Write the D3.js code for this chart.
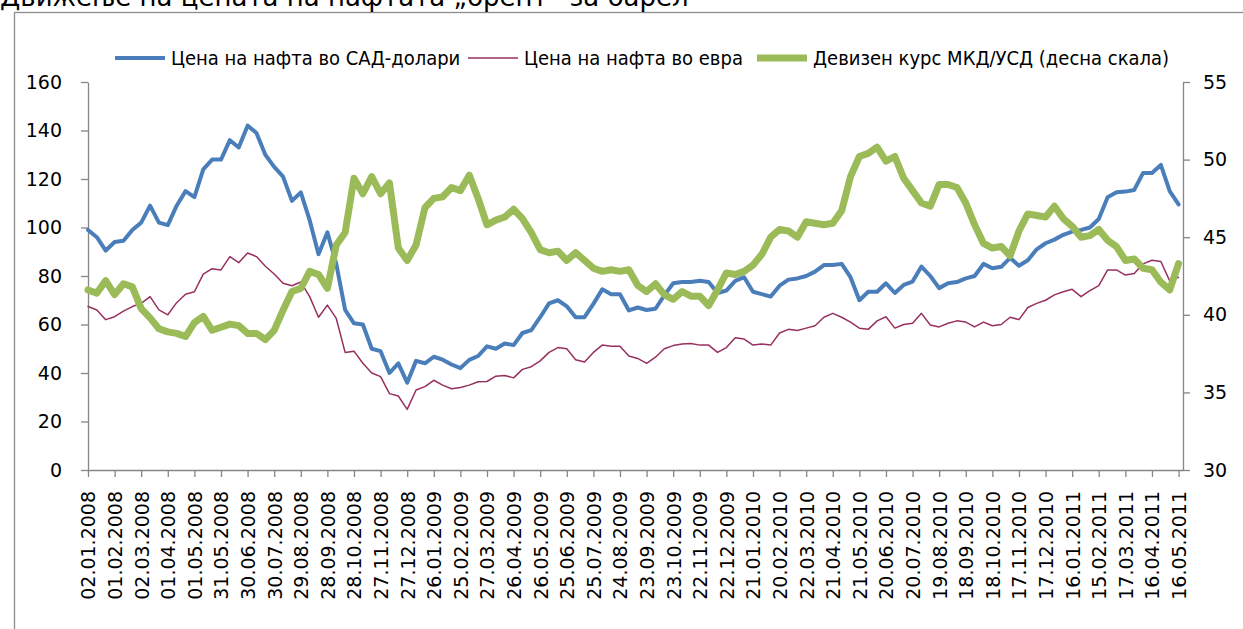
<!DOCTYPE html>
<meta charset="utf-8">
<script src="https://d3js.org/d3.v7.min.js"></script>
<style>

body {
  margin: 0;
  background: #fff;
}

path.line {
  fill: none;
  stroke-linejoin: round;
  stroke-linecap: round;
}

.axis path,
.axis line {
  stroke: #868686;
  stroke-width: 1.3px;
}

.axis text {
  fill: #000;
  font: 19px "DejaVu Sans", sans-serif;
}

.xaxis text {
  font-size: 19px;
}

.legend text {
  fill: #000;
  font: 20px "DejaVu Sans Condensed", sans-serif;
}

</style>
<body>
<script>

// x axis labels (one every 30 days)
var tickLabels = ["02.01.2008","01.02.2008","02.03.2008","01.04.2008","01.05.2008","31.05.2008",
  "30.06.2008","30.07.2008","29.08.2008","28.09.2008","28.10.2008","27.11.2008","27.12.2008",
  "26.01.2009","25.02.2009","27.03.2009","26.04.2009","26.05.2009","25.06.2009","25.07.2009",
  "24.08.2009","23.09.2009","23.10.2009","22.11.2009","22.12.2009","21.01.2010","20.02.2010",
  "22.03.2010","21.04.2010","21.05.2010","20.06.2010","20.07.2010","19.08.2010","18.09.2010",
  "18.10.2010","17.11.2010","17.12.2010","16.01.2011","15.02.2011","17.03.2011","16.04.2011",
  "16.05.2011"];

// observations read every 10 days starting 02.01.2008
var dataStart = "02.01.2008";
var dayStep = 10;

// Brent in USD
var usd = [99,96,90.5,94,94.5,99,102,109,102,101,
  109,115,112.5,124,128,128,136,133,142,139,
  130,125,121,111,114.5,103,89,98,85,66,
  60.5,60,50,49,40,44,36,45,44,46.7,
  45.5,43.5,42,45.4,47,51,50,52.2,51.5,56.5,
  57.7,63,68.7,70,67.5,63,63,68.5,74.5,72.5,
  72.5,65.8,67,66,66.5,72,77,77.5,77.5,78,
  77.5,73,74,78,79.5,73.5,72.5,71.5,76,78.5,
  79,80,81.8,84.5,84.5,85,79.5,70,73.5,73.5,
  77,73,76.3,77.7,83.9,80,75,77,77.5,79,
  80,85,83.2,83.8,87.5,84.2,86.5,91,93.5,95,
  97,98.3,99,100,103.5,112.5,114.5,114.8,115.5,122.5,
  122.5,125.8,115,109.5];

// Brent in EUR
var eur = [67.4,66,62,63.2,65.5,67.4,68.7,71.5,66,64,
  69,72.5,73.5,80.8,83,82.5,88,85.5,89.5,88,
  84,80.8,77,76,77.5,71.5,63,68,62.5,48.5,
  49,44,40,38.5,31.5,30.5,25,33,34.4,37,
  35,33.5,34,35,36.4,36.5,38.7,39,38,41.5,
  42.6,45,48.5,50.5,50,45.5,44.5,48.5,51.5,51,
  51,47,46,44,46.5,50,51.3,52,52.2,51.5,
  51.5,48.5,50.5,54.5,54,51.5,52,51.5,56.5,58,
  57.5,58.5,59.5,63,64.6,63,61,58.5,58,61.5,
  63.2,58.5,60,60.5,64.6,59.8,59,60.5,61.5,61,
  59,61,59.5,60,63,62,67,68.7,70,72.2,
  73.5,74.5,71.5,74,76,82.5,82.5,80.4,81,85,
  86.5,86,78,79.5];

// MKD per USD (right scale)
var mkd = [41.6,41.4,42.2,41.3,42.0,41.8,40.4,39.8,39.1,38.9,
  38.8,38.6,39.5,39.9,39.0,39.2,39.4,39.3,38.8,38.8,
  38.4,39.0,40.3,41.5,41.7,42.8,42.6,41.7,44.5,45.3,
  48.8,47.8,48.9,47.8,48.5,44.3,43.5,44.5,46.9,47.5,
  47.6,48.2,48.0,49.0,47.5,45.8,46.1,46.3,46.8,46.2,
  45.3,44.2,44.0,44.1,43.5,44.0,43.5,43.0,42.8,42.9,
  42.8,42.9,41.9,41.5,42.0,41.3,41.0,41.5,41.2,41.2,
  40.6,41.6,42.7,42.6,42.8,43.2,43.9,45.0,45.5,45.4,
  45.0,46.0,45.9,45.8,45.9,46.7,48.9,50.2,50.4,50.8,
  49.9,50.2,48.8,48.0,47.2,47.0,48.4,48.4,48.2,47.2,
  45.8,44.6,44.3,44.4,43.8,45.4,46.5,46.4,46.3,47.0,
  46.2,45.7,45.0,45.1,45.5,44.8,44.4,43.5,43.6,43.0,
  42.9,42.1,41.6,43.3];

var seriesNames = ["Цена на нафта во САД-долари", "Цена на нафта во евра", "Девизен курс МКД/УСД (десна скала)"];
var titleText = "Движење на цената на нафтата „брент“ за барел";

var width = 1243,
    height = 629;

var plotL = 88, plotR = 1183, plotT = 82, plotB = 470;

var parseDate = d3.timeParse("%d.%m.%Y");
var start = parseDate(dataStart);
var dates = usd.map(function(d, i) { return d3.timeDay.offset(start, i * dayStep); });

var x = d3.scaleTime()
    .domain([start, parseDate("21.05.2011")])
    .range([plotL, plotR]);

var yL = d3.scaleLinear().domain([0, 160]).range([plotB, plotT]);
var yR = d3.scaleLinear().domain([30, 55]).range([plotB, plotT]);

var svg = d3.select("body").append("svg")
    .attr("width", width)
    .attr("height", height);

// outer frame
svg.append("rect")
    .attr("x", 14.5)
    .attr("y", 12.5)
    .attr("width", 1240)
    .attr("height", 640)
    .style("fill", "none")
    .style("stroke", "#8c8c8c")
    .style("stroke-width", 1.3);

// title, its upper half sits off the top of the page
svg.append("text")
    .attr("x", 0)
    .attr("y", 6)
    .style("font", "26px 'DejaVu Sans', sans-serif")
    .text(titleText);

// axes
svg.append("g")
    .attr("class", "axis")
    .attr("transform", "translate(" + plotL + ",0)")
    .call(d3.axisLeft(yL).tickValues(d3.range(0, 161, 20)).tickSizeInner(7).tickSizeOuter(0).tickPadding(19));

svg.append("g")
    .attr("class", "axis")
    .attr("transform", "translate(" + plotR + ",0)")
    .call(d3.axisRight(yR).tickValues(d3.range(30, 56, 5)).tickSizeInner(7).tickSizeOuter(0).tickPadding(13));

var xAxis = svg.append("g")
    .attr("class", "axis xaxis")
    .attr("transform", "translate(0," + plotB + ")")
    .call(d3.axisBottom(x)
      .tickValues(tickLabels.map(parseDate))
      .tickFormat(d3.timeFormat("%d.%m.%Y"))
      .tickSizeInner(7)
      .tickSizeOuter(0));

xAxis.selectAll("text")
    .attr("transform", "rotate(-90)")
    .attr("text-anchor", "end")
    .attr("x", -21)
    .attr("y", 0)
    .attr("dy", "0.36em");

// lines
var lineL = function(vals) {
  return d3.line()
    .x(function(d, i) { return x(dates[i]); })
    .y(function(d) { return yL(d); })(vals);
};

var lineR = d3.line()
    .x(function(d, i) { return x(dates[i]); })
    .y(function(d) { return yR(d); });

svg.append("path")
    .attr("class", "line")
    .attr("d", lineL(usd))
    .style("stroke", "#4a7ebb")
    .style("stroke-width", 4);

svg.append("path")
    .attr("class", "line")
    .attr("d", lineL(eur))
    .style("stroke", "#98305f")
    .style("stroke-width", 1.5);

svg.append("path")
    .attr("class", "line")
    .attr("d", lineR(mkd))
    .style("stroke", "#9bbb59")
    .style("stroke-width", 7);

// legend
var legendItems = [
  {name: seriesNames[0], color: "#4a7ebb", w: 4, x: 115},
  {name: seriesNames[1], color: "#98305f", w: 1.6, x: 468},
  {name: seriesNames[2], color: "#9bbb59", w: 7, x: 757}
];

var legend = svg.append("g")
    .attr("class", "legend")
    .selectAll("g")
    .data(legendItems)
    .enter()
    .append("g")
    .attr("transform", function(d) { return "translate(" + d.x + ",58)"; });

legend.append("line")
    .attr("x1", 0)
    .attr("x2", 50)
    .style("stroke", function(d) { return d.color; })
    .style("stroke-width", function(d) { return d.w; });

legend.append("text")
    .attr("x", 56)
    .attr("dy", "0.35em")
    .text(function(d) { return d.name; });

</script>
</body>
